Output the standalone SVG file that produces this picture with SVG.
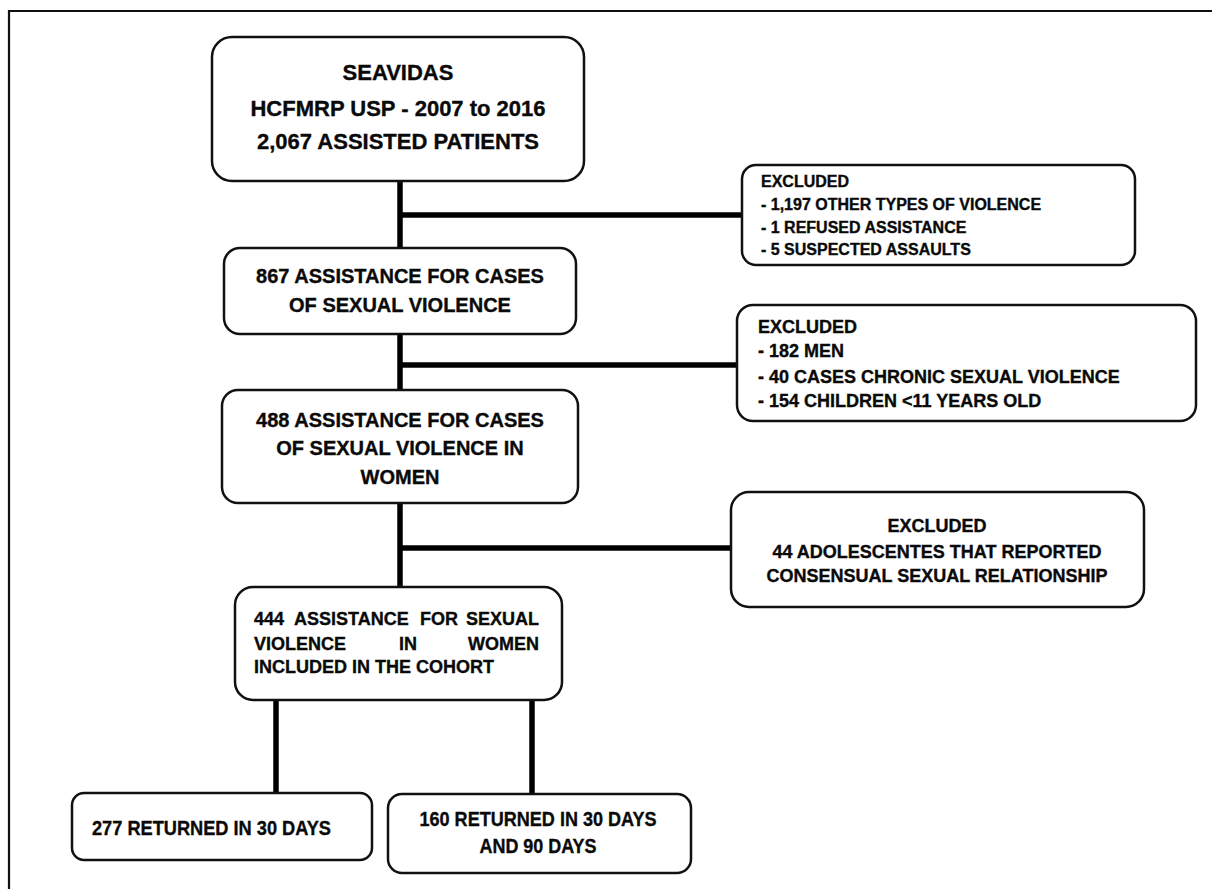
<svg xmlns="http://www.w3.org/2000/svg" width="1212" height="889" viewBox="0 0 1212 889">
<style>
.box{fill:#fff;stroke:#111;stroke-width:2.5}
.conn{stroke:#000;stroke-width:5.5;fill:none}
text{font-family:"Liberation Sans",Arial,sans-serif;font-weight:bold;fill:#0a0a0a;stroke:#0a0a0a;stroke-width:0.35}
.c{text-anchor:middle}
</style>
<rect width="1212" height="889" fill="#fff"/>
<path d="M9,889 V11 H1212" fill="none" stroke="#111" stroke-width="2.2"/>
<g id="connectors">
<path class="conn" d="M400,181 V248"/>
<path class="conn" d="M400,215 H742"/>
<path class="conn" d="M400,334 V390"/>
<path class="conn" d="M400,365 H737"/>
<path class="conn" d="M400,503 V587"/>
<path class="conn" d="M400,548 H731"/>
<path class="conn" d="M276,700 V793"/>
<path class="conn" d="M532,700 V794"/>
</g>
<g id="n1">
<rect class="box" x="212" y="37" width="372" height="144" rx="20"/>
<text class="c" x="398" y="80" font-size="22">SEAVIDAS</text>
<text class="c" x="398" y="116" font-size="22">HCFMRP USP - 2007 to 2016</text>
<text class="c" x="398" y="149" font-size="22">2,067 ASSISTED PATIENTS</text>
</g>
<g id="ex1">
<rect class="box" x="742" y="165" width="393" height="100" rx="14"/>
<text x="761" y="187" font-size="16">EXCLUDED</text>
<text x="761" y="210" font-size="16">- 1,197 OTHER TYPES OF VIOLENCE</text>
<text x="761" y="233" font-size="16">- 1 REFUSED ASSISTANCE</text>
<text x="761" y="255" font-size="16">- 5 SUSPECTED ASSAULTS</text>
</g>
<g id="n2">
<rect class="box" x="224" y="248" width="352" height="86" rx="16"/>
<text class="c" x="400" y="283" font-size="20">867 ASSISTANCE FOR CASES</text>
<text class="c" x="400" y="312" font-size="20">OF SEXUAL VIOLENCE</text>
</g>
<g id="ex2">
<rect class="box" x="737" y="305" width="459" height="116" rx="16"/>
<text x="758" y="333" font-size="18">EXCLUDED</text>
<text x="758" y="357" font-size="18">- 182 MEN</text>
<text x="758" y="383" font-size="18">- 40 CASES CHRONIC SEXUAL VIOLENCE</text>
<text x="758" y="407" font-size="18">- 154 CHILDREN &lt;11 YEARS OLD</text>
</g>
<g id="n3">
<rect class="box" x="222" y="390" width="356" height="113" rx="16"/>
<text class="c" x="400" y="427" font-size="20">488 ASSISTANCE FOR CASES</text>
<text class="c" x="400" y="455" font-size="20">OF SEXUAL VIOLENCE IN</text>
<text class="c" x="400" y="484" font-size="20">WOMEN</text>
</g>
<g id="ex3">
<rect class="box" x="731" y="492" width="413" height="115" rx="18"/>
<text class="c" x="937" y="532" font-size="18">EXCLUDED</text>
<text class="c" x="937" y="558" font-size="18">44 ADOLESCENTES THAT REPORTED</text>
<text class="c" x="937" y="582" font-size="18">CONSENSUAL SEXUAL RELATIONSHIP</text>
</g>
<g id="n4">
<rect class="box" x="235" y="587" width="327" height="113" rx="18"/>
<text font-size="18" y="625"><tspan x="254">444</tspan><tspan x="294">ASSISTANCE</tspan><tspan x="420">FOR</tspan><tspan x="466">SEXUAL</tspan></text>
<text font-size="18" y="650"><tspan x="254">VIOLENCE</tspan><tspan x="399">IN</tspan><tspan x="468">WOMEN</tspan></text>
<text x="254" y="673" font-size="18">INCLUDED IN THE COHORT</text>
</g>
<g id="n5">
<rect class="box" x="72" y="793" width="300" height="67" rx="12"/>
<text x="92" y="835" font-size="20" textLength="239" lengthAdjust="spacingAndGlyphs">277 RETURNED IN 30 DAYS</text>
</g>
<g id="n6">
<rect class="box" x="388" y="794" width="303" height="79" rx="14"/>
<text class="c" x="538" y="826" font-size="20" textLength="237" lengthAdjust="spacingAndGlyphs">160 RETURNED IN 30 DAYS</text>
<text class="c" x="538" y="853" font-size="20" textLength="117" lengthAdjust="spacingAndGlyphs">AND 90 DAYS</text>
</g>
</svg>
